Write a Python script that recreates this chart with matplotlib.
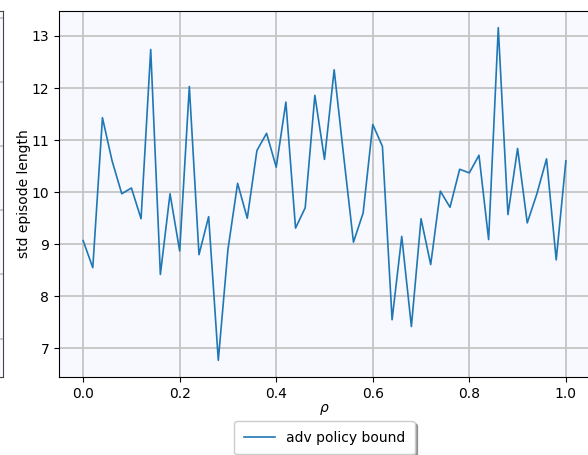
import numpy as np
import matplotlib
matplotlib.use("Agg")
import matplotlib.pyplot as plt

# rho sweep and standard deviation of episode length
rho = np.round(np.arange(0, 51) * 0.02, 2)
std_len = [
    9.07, 8.55, 11.43, 10.60, 9.97, 10.08, 9.49, 12.74, 8.42, 9.97,
    8.87, 12.03, 8.80, 9.53, 6.77, 8.90, 10.17, 9.50, 10.80, 11.13,
    10.48, 11.73, 9.31, 9.70, 11.86, 10.63, 12.35, 10.67, 9.04, 9.60,
    11.30, 10.88, 7.55, 9.15, 7.42, 9.49, 8.61, 10.02, 9.71, 10.44,
    10.37, 10.71, 9.09, 13.16, 9.57, 10.84, 9.41, 9.97, 10.64, 8.70,
    10.60,
]
series_label = "adv policy bound"
x_ticks = [0.0, 0.2, 0.4, 0.6, 0.8, 1.0]
y_ticks = [7, 8, 9, 10, 11, 12, 13]

W, H = 588, 455
fig = plt.figure(figsize=(W / 100, H / 100), dpi=100)

grid_kw = dict(color="#c4c4c4", linewidth=1.3)
face = "#F8F8FF"
fs = 10

# neighbouring panel on the left (only its right edge falls inside the frame)
ax_prev = fig.add_axes([-0.6, 1 - 377 / H, 0.6 + 3 / W, 366 / H])
ax_prev.set_facecolor(face)
ax_prev.set_ylim(-0.6, 5.11)
ax_prev.set_yticks([0, 1, 2, 3, 4, 5])
ax_prev.set_xticks([])
ax_prev.tick_params(labelleft=False, left=False)
ax_prev.yaxis.grid(True, **grid_kw)
ax_prev.set_axisbelow(True)
for s in ax_prev.spines.values():
    s.set_color("#444444")

# main panel
ax = fig.add_axes([59 / W, 1 - 377 / H, 531 / W, 366 / H])
ax.set_facecolor(face)
ax.plot(rho, std_len, color="#1f77b4", linewidth=1.2, label=series_label)
ax.set_xlim(-0.05, 1.05)
ax.set_xticks(x_ticks)
ax.set_yticks(y_ticks)
ax.grid(True, **grid_kw)
ax.set_axisbelow(True)
ax.tick_params(labelsize=fs)
ax.set_xlabel(r"$\rho$", fontsize=fs, labelpad=1)
ax.set_ylabel("std episode length", fontsize=fs, labelpad=0.5)
ax.legend(loc="upper center", bbox_to_anchor=(0.5, -0.12), borderaxespad=0,
          shadow=True, fontsize=fs, handlelength=2.2, borderpad=0.7)

fig.savefig("out.png", dpi=100)
